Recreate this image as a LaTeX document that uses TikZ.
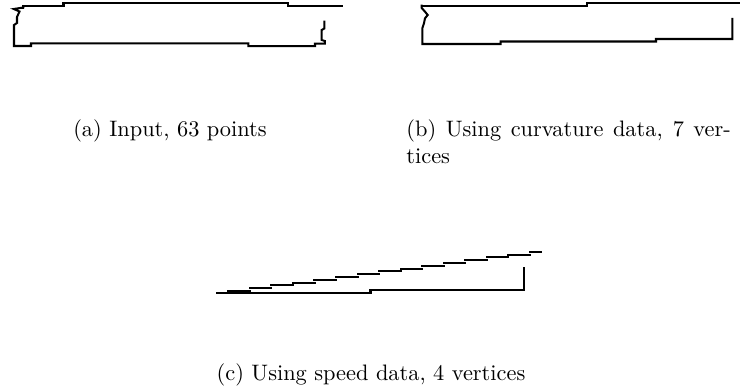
\documentclass[tikz,border=0pt]{standalone}
\usepackage{tikz}

\begin{document}
\begin{tikzpicture}[x=0.447pt, y=-0.447pt,
    trace/.style={line width=0.9pt, line cap=rect},
    caption/.style={inner sep=0pt}]
  \useasboundingbox (0,0) rectangle (740,392);

  % (a): input outline
  \begin{scope}
    \draw[trace] (23.3,7.5) -- (23.3,5.7) -- (63.5,5.7) -- (63.5,3.3)
      -- (288.3,3.3) -- (288.3,5.7) -- (341.5,5.7);
    \draw[trace] (23.3,7.5) -- (13.8,9) -- (19.5,11.5) -- (17,17) -- (17,23)
      -- (14,25) -- (14,46) -- (31,46) -- (31,43.3) -- (248.3,43.3)
      -- (248.3,46.2) -- (315,46.2) -- (315,43.6) -- (324.8,43.6)
      -- (324.8,41) -- (321.7,40) -- (321.7,30) -- (324.3,28.5) -- (324.3,21.7);
    \node[caption, anchor=base] (capa) at (170,136.5) {(a) Input, 63 points};
  \end{scope}

  % (b): curvature data
  \begin{scope}
    \draw[trace] (421.7,5.7) -- (586.7,5.7) -- (586.7,3.3) -- (740,3.3);
    \draw[trace] (421.7,5.7) -- (421.7,8) -- (425,11.7) -- (427.7,15)
      -- (425,18.3) -- (424,23.3) -- (422.3,28.3) -- (422.3,44)
      -- (500.7,44) -- (500.7,41.5) -- (656,41.5) -- (656,39)
      -- (732.3,39) -- (732.3,19);
    \node[caption, anchor=north west, text width=145pt, align=justify]
      (capb) at (406,119.7) {(b) Using curvature data, 7 ver-\linebreak tices};
  \end{scope}

  % (c): speed data
  \begin{scope}
    \draw[trace] (216.7,293) -- (370.5,293) -- (370.5,290.3) -- (524.3,290.3)
      -- (524.3,267.7);
    \foreach \i in {0,...,13}
      \draw[trace] ({228.3+21.55*\i},{291-2.8*\i}) -- ({228.3+21.55*(\i+1)},{291-2.8*\i});
    \draw[trace] (530,251.8) -- (540.5,251.8);
    \node[caption, anchor=base] (capc) at (371,381) {(c) Using speed data, 4 vertices};
  \end{scope}
\end{tikzpicture}
\end{document}
